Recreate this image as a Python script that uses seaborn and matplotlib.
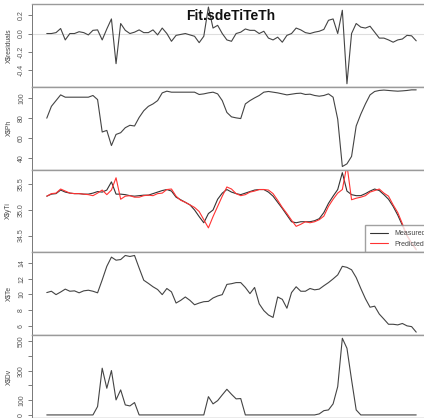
import numpy as np
import pandas as pd
import matplotlib
matplotlib.use('Agg')
import matplotlib.pyplot as plt
import seaborn as sns

# values, one per sample (81 samples)
residuals = [0.0, 0.0, 0.01, 0.055, -0.07, 0.0, 0.0, 0.02, 0.01, -0.015,
             0.035, 0.04, -0.07, 0.05, 0.16, -0.33, 0.11, 0.035, 0.0, 0.015,
             0.04, 0.01, 0.01, 0.04, -0.015, 0.06, 0.0, -0.085, -0.02, -0.01,
             0.0, -0.015, -0.03, -0.1, -0.03, 0.29, 0.06, 0.09, 0.0, -0.07,
             -0.085, 0.0, 0.015, 0.05, 0.035, 0.035, 0.0, 0.025, -0.05, -0.07,
             -0.04, -0.095, -0.02, 0.0, 0.06, 0.04, 0.01, 0.0, 0.015, 0.025,
             0.045, 0.145, 0.16, 0.0, 0.255, -0.55, 0.0, 0.11, 0.07, 0.06,
             0.08, 0.015, -0.05, -0.05, -0.07, -0.095, -0.07, -0.06, -0.02, -0.025,
             -0.08]

ph = [79.8, 91.6, 97.3, 103, 100.7, 100.7, 100.7, 100.7, 100.7, 100.7,
      102.4, 98.3, 66, 67.6, 52.5, 63.6, 65.3, 70.3, 72.7, 72,
      80.5, 87.2, 91.6, 94, 97.3, 105, 106.7, 105.7, 105.7, 105.7,
      105.7, 105.7, 105.7, 103.4, 104, 105, 105.7, 104, 97.3, 85.5,
      81.1, 80.1, 79.4, 94, 97.3, 100, 102.4, 105.7, 106.4, 105.7,
      105, 104, 103, 103.7, 104.4, 104.7, 103.4, 103.7, 102.4, 101.7,
      102.4, 104, 100.7, 78.8, 31.6, 34.3, 41.7, 72, 83.8, 94,
      103, 106.4, 107.4, 107.8, 107.4, 107, 106.7, 107, 107.4, 108,
      108]

yti_measured = [35.27, 35.31, 35.32, 35.39, 35.35, 35.33, 35.32, 35.32, 35.31, 35.31,
                35.33, 35.36, 35.35, 35.39, 35.55, 35.31, 35.31, 35.30, 35.28, 35.27,
                35.28, 35.29, 35.29, 35.32, 35.35, 35.38, 35.40, 35.37, 35.25, 35.20,
                35.15, 35.10, 35.00, 34.87, 34.75, 34.93, 35.00, 35.21, 35.33, 35.40,
                35.35, 35.32, 35.30, 35.33, 35.36, 35.39, 35.40, 35.40, 35.35, 35.27,
                35.15, 35.03, 34.90, 34.77, 34.75, 34.77, 34.77, 34.77, 34.79, 34.83,
                34.95, 35.13, 35.27, 35.40, 35.73, 35.37, 35.30, 35.28, 35.28, 35.32,
                35.37, 35.41, 35.38, 35.30, 35.21, 35.07, 34.90, 34.70, 34.50, 34.35,
                34.23]

yti_predicted = [35.27, 35.32, 35.33, 35.41, 35.37, 35.33, 35.32, 35.32, 35.31, 35.30,
                 35.28, 35.33, 35.39, 35.30, 35.39, 35.63, 35.21, 35.27, 35.28, 35.25,
                 35.25, 35.28, 35.29, 35.28, 35.32, 35.33, 35.40, 35.41, 35.27, 35.19,
                 35.15, 35.10, 35.05, 34.97, 34.81, 34.65, 34.87, 35.07, 35.27, 35.45,
                 35.41, 35.32, 35.28, 35.30, 35.35, 35.37, 35.40, 35.40, 35.39, 35.32,
                 35.19, 35.05, 34.93, 34.80, 34.68, 34.72, 34.77, 34.75, 34.77, 34.81,
                 34.88, 35.07, 35.21, 35.33, 35.40, 35.88, 35.20, 35.23, 35.25, 35.28,
                 35.35, 35.38, 35.41, 35.33, 35.27, 35.10, 34.95, 34.73, 34.50, 34.35,
                 34.22]

te = [10.23, 10.4, 9.97, 10.3, 10.67, 10.4, 10.45, 10.2, 10.45, 10.53,
      10.4, 10.2, 11.84, 13.57, 14.74, 14.35, 14.43, 14.95, 14.82, 14.95,
      13.35, 11.8, 11.4, 10.97, 10.62, 9.97, 10.75, 10.32, 8.9, 9.24,
      9.67, 9.24, 8.68, 8.9, 9.07, 9.11, 9.54, 9.8, 9.97, 11.27,
      11.36, 11.5, 11.5, 10.88, 10.1, 10.88, 8.8, 7.94, 7.38, 7.07,
      9.67, 9.37, 8.24, 10.23, 10.97, 10.4, 10.4, 10.75, 10.58, 10.67,
      11.1, 11.5, 11.97, 12.48, 13.57, 13.44, 13.13, 12.14, 10.75, 9.45,
      8.37, 8.5, 7.5, 6.86, 6.2, 6.2, 6.12, 6.3, 6.0, 5.9,
      5.2]

dv = [0, 0, 0, 0, 0, 0, 0, 0, 0, 0,
      0, 57, 317, 181, 301, 102, 170, 68, 61, 84,
      0, 0, 0, 0, 0, 0, 0, 0, 0, 0,
      0, 0, 0, 0, 0, 124, 75, 97, 136, 174,
      140, 109, 111, 0, 0, 0, 0, 0, 0, 0,
      0, 0, 0, 0, 0, 0, 0, 0, 0, 7,
      29, 34, 75, 192, 520, 452, 238, 34, 0, 0,
      0, 0, 0, 0, 0, 0, 0, 0, 0, 0,
      0]

panel_labels = ['X\\$residuals', 'X\\$Ph', 'X\\$yTi', 'X\\$Te', 'X\\$Dv']
panel_ticks = [[-0.4, -0.2, 0.0, 0.2],
               [40, 60, 80, 100],
               [34.5, 35.0, 35.5],
               [6, 8, 10, 12, 14],
               [0, 100, 200, 300, 400, 500]]
panel_ticklabels = [['-0.4', '-0.2', '0.0', '0.2'],
                    ['40', '60', '80', '100'],
                    ['34.5', '35.0', '35.5'],
                    ['6', '8', '10', '12', '14'],
                    ['0', '100', '', '300', '', '500']]
legend_labels = ['Measured', 'Predicted']

sns.set_style('white')
plt.rcParams['font.family'] = ['Liberation Sans', 'DejaVu Sans']

df = pd.DataFrame({'idx': np.arange(len(residuals)), 'residuals': residuals, 'ph': ph,
                   'yti': yti_measured, 'yti_pred': yti_predicted, 'te': te, 'dv': dv})

W, H = 424, 418
fig = plt.figure(figsize=(W / 100, H / 100), dpi=100)
fig.patch.set_facecolor('white')

left_px, right_px = 32, 431
top_px, panel_h = 4, 82.8
cols = ['residuals', 'ph', 'yti', 'te', 'dv']
n = len(df)
xlo, xhi = -0.04 * (n - 1), (n - 1) * 1.04

for k, col in enumerate(cols):
    y_top = top_px + k * panel_h
    ax = fig.add_axes([left_px / W, 1 - (y_top + panel_h) / H,
                       (right_px - left_px) / W, panel_h / H])
    vals = df[col]
    rng = vals.max() - vals.min()
    ax.set_ylim(vals.min() - 0.04 * rng, vals.max() + 0.04 * rng)
    ax.set_xlim(xlo, xhi)

    if col == 'residuals':
        ax.axhline(0, color='#dedede', lw=0.8, zorder=1)
    if col == 'yti':
        sns.lineplot(data=df, x='idx', y='yti', ax=ax, color='#333333', lw=0.8,
                     label=legend_labels[0])
        sns.lineplot(data=df, x='idx', y='yti_pred', ax=ax, color='#ff3333', lw=0.8,
                     label=legend_labels[1])
        leg = ax.legend(loc='lower right', borderaxespad=0, fontsize=5,
                        frameon=True, fancybox=False, handlelength=2.6,
                        borderpad=0.7, handletextpad=0.9, labelspacing=0.5)
        leg.get_frame().set_edgecolor('#8a8a8a')
        leg.get_frame().set_linewidth(1.0)
        for t in leg.get_texts():
            t.set_color('#444444')
    else:
        sns.lineplot(data=df, x='idx', y=col, ax=ax, color='#444444', lw=0.8)

    ax.set_yticks(panel_ticks[k])
    ax.set_yticklabels(panel_ticklabels[k], rotation=90, va='center',
                       fontsize=5, color='#555555')
    ax.tick_params(axis='y', left=True, length=3, width=0.6, color='#666666', pad=2)
    ax.set_xticks([])
    ax.set_xlabel('')
    ax.set_ylabel(panel_labels[k], fontsize=4.8, color='#444444')
    ax.yaxis.set_label_coords(-20 / (right_px - left_px), 0.5)
    for s in ax.spines.values():
        s.set_color('#9a9a9a')
        s.set_linewidth(1.0)
    ax.spines['left'].set_color('#777777')
    ax.spines['left'].set_linewidth(0.7)

fig.text(231 / W, 1 - 16 / H, 'Fit.sdeTiTeTh', ha='center', va='center',
         fontsize=10, fontweight='bold', color='#111111')

fig.savefig('out.png', dpi=100)
